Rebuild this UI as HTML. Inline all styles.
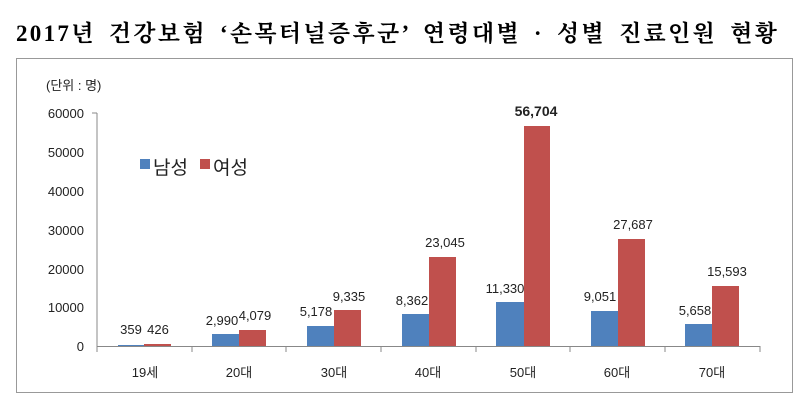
<!DOCTYPE html>
<html><head><meta charset="utf-8"><style>
body{margin:0;width:811px;height:405px;background:#fff;overflow:hidden}
.t{position:absolute;left:16px;top:15px;font-family:"Liberation Serif","Noto Serif CJK SC",serif;font-size:23px;font-weight:bold;letter-spacing:2.3px;word-spacing:5px;white-space:nowrap}
</style></head><body>
<div class="t">2017년 건강보험 ‘손목터널증후군’ 연령대별 · 성별 진료인원 현황</div>
<svg width="811" height="405" style="position:absolute;left:0;top:0" font-family="'Liberation Sans','Noto Sans CJK KR',sans-serif" font-size="13" fill="#222">
<rect x="16.5" y="58.5" width="776" height="334" fill="none" stroke="#999"/>
<text x="46" y="90" font-size="13">(단위 : 명)</text>
<g text-anchor="end">
<text x="84" y="351">0</text><text x="84" y="312">10000</text><text x="84" y="274">20000</text><text x="84" y="235">30000</text><text x="84" y="196">40000</text><text x="84" y="157">50000</text><text x="84" y="118">60000</text>
</g>
<line x1="97" y1="113" x2="97" y2="346" stroke="#888"/>
<line x1="92" y1="113" x2="97" y2="113" stroke="#888"/>
<line x1="97" y1="346.5" x2="760" y2="346.5" stroke="#888"/>
<g stroke="#888"><line x1="192" y1="346" x2="192" y2="352"/><line x1="286" y1="346" x2="286" y2="352"/><line x1="381" y1="346" x2="381" y2="352"/><line x1="476" y1="346" x2="476" y2="352"/><line x1="570" y1="346" x2="570" y2="352"/><line x1="665" y1="346" x2="665" y2="352"/><line x1="760" y1="346" x2="760" y2="352"/><line x1="97" y1="346" x2="97" y2="352"/></g>
<rect x="140" y="159" width="10" height="10" fill="#4f81bd"/><text x="153" y="174" font-size="19">남성</text>
<rect x="200" y="159" width="10" height="10" fill="#c0504d"/><text x="213" y="174" font-size="19">여성</text>
<g text-anchor="middle">
<rect x="118" y="345" width="26" height="1" fill="#4f81bd"/><rect x="144" y="344" width="27" height="2" fill="#c0504d"/>
<text x="131" y="334">359</text><text x="158" y="334">426</text><text x="145" y="377">19세</text>
<rect x="212" y="334" width="27" height="12" fill="#4f81bd"/><rect x="239" y="330" width="27" height="16" fill="#c0504d"/>
<text x="222" y="325">2,990</text><text x="255" y="320">4,079</text><text x="239" y="377">20대</text>
<rect x="307" y="326" width="27" height="20" fill="#4f81bd"/><rect x="334" y="310" width="27" height="36" fill="#c0504d"/>
<text x="316" y="316">5,178</text><text x="349" y="301">9,335</text><text x="334" y="377">30대</text>
<rect x="402" y="314" width="27" height="32" fill="#4f81bd"/><rect x="429" y="257" width="27" height="89" fill="#c0504d"/>
<text x="412" y="305">8,362</text><text x="445" y="247">23,045</text><text x="428" y="377">40대</text>
<rect x="496" y="302" width="28" height="44" fill="#4f81bd"/><rect x="524" y="126" width="26" height="220" fill="#c0504d"/>
<text x="505" y="293">11,330</text><text x="536" y="116" font-weight="bold" font-size="14">56,704</text><text x="523" y="377">50대</text>
<rect x="591" y="311" width="27" height="35" fill="#4f81bd"/><rect x="618" y="239" width="27" height="107" fill="#c0504d"/>
<text x="600" y="301">9,051</text><text x="633" y="229">27,687</text><text x="617" y="377">60대</text>
<rect x="685" y="324" width="27" height="22" fill="#4f81bd"/><rect x="712" y="286" width="27" height="60" fill="#c0504d"/>
<text x="695" y="315">5,658</text><text x="727" y="276">15,593</text><text x="712" y="377">70대</text>
</g>
</svg>
</body></html>
